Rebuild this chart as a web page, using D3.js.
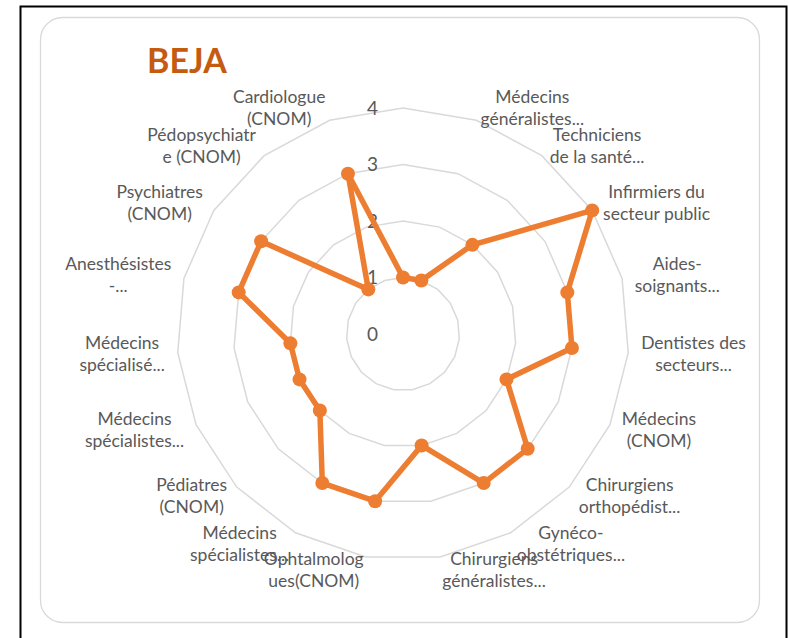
<!DOCTYPE html>
<html>
<head>
<meta charset="utf-8">
<script src="https://cdn.jsdelivr.net/npm/d3@7"></script>
<style>
  body { margin: 0; background: #fff; overflow: hidden; }
  svg { display: block; }
</style>
</head>
<body>
<div id="chart"></div>
<script>
// categories, clockwise from the top (first one has no visible label)
var categories = [
  "",
  "Médecins\ngénéralistes...",
  "Techniciens\nde la santé...",
  "Infirmiers du\nsecteur public",
  "Aides-\nsoignants...",
  "Dentistes des\nsecteurs...",
  "Médecins\n(CNOM)",
  "Chirurgiens\northopédist...",
  "Gynéco-\nobstétriques...",
  "Chirurgiens\ngénéralistes...",
  "Ophtalmolog\nues(CNOM)",
  "Médecins\nspécialistes...",
  "Pédiatres\n(CNOM)",
  "Médecins\nspécialistes...",
  "Médecins\nspécialisé...",
  "Anesthésistes\n-...",
  "Psychiatres\n(CNOM)",
  "Pédopsychiatr\ne (CNOM)",
  "Cardiologue\n(CNOM)"
];
var values = [1, 1, 2, 4, 3, 3, 2, 3, 3, 2, 3, 3, 2, 2, 2, 3, 3, 1, 3];
var ticks = [0, 1, 2, 3, 4];
var title = "BEJA";

var width = 789, height = 638;
var cx = 403, cy = 334, radius = 226;
var font = "Lato, 'Liberation Sans', sans-serif";

var svg = d3.select("#chart").append("svg")
    .attr("width", width)
    .attr("height", height);

// frames: black border open at the bottom, rounded chart area inside
svg.append("path")
    .attr("d", "M20.5," + height + "V6.5H786.5V" + height)
    .attr("fill", "none")
    .attr("stroke", "#000")
    .attr("stroke-width", 2);

svg.append("rect")
    .attr("x", 40.5).attr("y", 17.5)
    .attr("width", 719).attr("height", 605)
    .attr("rx", 22).attr("ry", 22)
    .attr("fill", "#fff")
    .attr("stroke", "#d9d9d9")
    .attr("stroke-width", 1.3);

var r = d3.scaleLinear().domain([0, 4]).range([0, radius]);
var angle = d3.scalePoint()
    .domain(d3.range(categories.length))
    .range([0, 2 * Math.PI * (categories.length - 1) / categories.length]);

function px(i, v) { return cx + r(v) * Math.sin(angle(i)); }
function py(i, v) { return cy - r(v) * Math.cos(angle(i)); }

var g = svg.append("g");

// grid rings
var ringLine = d3.line().curve(d3.curveLinearClosed);
g.selectAll(".ring")
    .data(ticks.slice(1))
    .enter().append("path")
    .attr("class", "ring")
    .attr("d", function(t) {
      return ringLine(categories.map(function(c, i) { return [px(i, t), py(i, t)]; }));
    })
    .attr("fill", "none")
    .attr("stroke", "#d9d9d9")
    .attr("stroke-width", 1.5);

// value axis labels
g.selectAll(".tick")
    .data(ticks)
    .enter().append("text")
    .attr("class", "tick")
    .attr("x", cx - 25)
    .attr("y", function(t) { return cy - r(t); })
    .attr("dy", "0.36em")
    .attr("text-anchor", "end")
    .attr("font-family", font)
    .attr("font-size", "19px")
    .attr("fill", "#595959")
    .text(function(t) { return t; });

// series
var series = d3.line().curve(d3.curveLinearClosed);
g.append("path")
    .attr("d", series(values.map(function(v, i) { return [px(i, v), py(i, v)]; })))
    .attr("fill", "none")
    .attr("stroke", "#ED7D31")
    .attr("stroke-width", 5.5)
    .attr("stroke-linejoin", "round");

g.selectAll(".dot")
    .data(values)
    .enter().append("circle")
    .attr("class", "dot")
    .attr("cx", function(v, i) { return px(i, v); })
    .attr("cy", function(v, i) { return py(i, v); })
    .attr("r", 7)
    .attr("fill", "#ED7D31");

// category labels
var labelR = radius + 13, lineH = 22;
categories.forEach(function(c, i) {
  if (!c) return;
  var a = angle(i), s = Math.sin(a);
  var ax = cx + labelR * s, ay = cy - labelR * Math.cos(a);
  var lines = c.split("\n");
  var t = g.append("text")
      .attr("font-family", font)
      .attr("font-size", "17.5px")
      .attr("fill", "#595959")
      .attr("text-anchor", "middle");
  lines.forEach(function(l, k) {
    t.append("tspan")
      .attr("x", 0)
      .attr("y", ay + (k - (lines.length - 1) / 2) * lineH)
      .attr("dy", "0.35em")
      .text(l);
  });
  var w = t.node().getBBox().width;
  var bx = Math.abs(s) < 0.05 ? ax : (s > 0 ? ax + w / 2 : ax - w / 2);
  t.selectAll("tspan").attr("x", bx);
});

// title
svg.append("text")
    .attr("x", 147)
    .attr("y", 73)
    .attr("font-family", font)
    .attr("font-size", "34px")
    .attr("font-weight", "bold")
    .attr("fill", "#C55A11")
    .text(title);
</script>
</body>
</html>
